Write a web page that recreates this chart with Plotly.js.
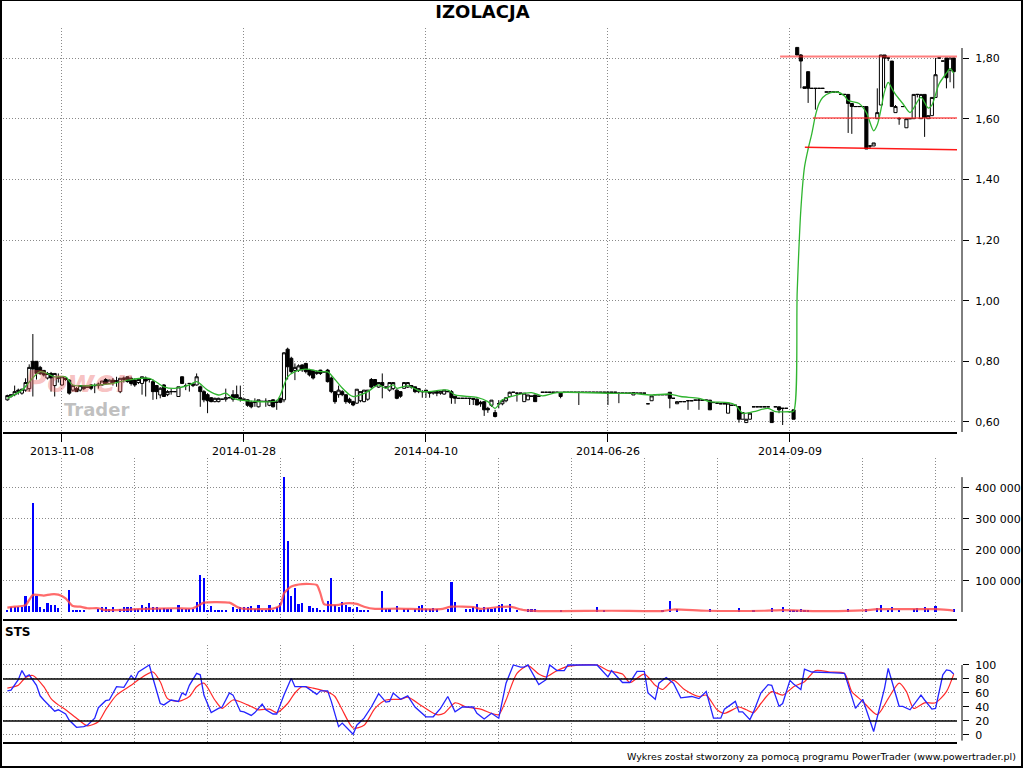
<!DOCTYPE html>
<html>
<head>
<meta charset="utf-8">
<script src="https://cdn.plot.ly/plotly-3.0.1.min.js"></script>
<style>
html,body{margin:0;padding:0;background:#fff;}
#wrap{position:relative;width:1024px;height:768px;overflow:hidden;}
#chart{position:absolute;left:0;top:0;width:1024px;height:768px;}
#frame{position:absolute;left:0;top:0;width:1019px;height:765px;border-left:2px solid #000;border-right:2px solid #000;border-top:1px solid #000;border-bottom:2px solid #000;pointer-events:none;}
</style>
</head>
<body>
<div id="wrap"><div id="chart"></div><div id="frame"></div></div>
<script>
// ---------------- DATA ----------------
// Session index 0..260 ; labelled sessions on the time axis
const tickIdx  = [15, 65, 115, 165, 215];
const tickText = ['2013-11-08', '2014-01-28', '2014-04-10', '2014-06-26', '2014-09-09'];

const open = [
.673,.685,.69,.70,.695,.705,.71,.80,.80,.78,
.77,.745,.76,.72,.745,.722,.745,.738,.705,.71,
.705,.72,.715,.722,.72,.72,.722,.74,.727,.738,
.735,.70,.74,.749,.744,.738,.73,.727,.745,.74,
.733,.72,.689,.722,.69,.70,.70,.684,.749,.72,
.727,.72,.722,.716,.70,.69,.68,.667,.667,.675,
.675,.68,.69,.69,.68,.675,.673,.665,.665,.65,
.668,.668,.655,.673,.665,.678,.673,.84,.81,.77,
.77,.788,.793,.771,.77,.76,.771,.765,.771,.745,
.70,.69,.70,.69,.675,.667,.662,.67,.667,.675,
.74,.74,.715,.73,.715,.705,.71,.705,.70,.711,
.715,.72,.716,.70,.70,.705,.70,.695,.70,.695,
.692,.70,.70,.685,.678,.678,.678,.678,.678,.675,
.665,.667,.645,.655,.631,.66,.66,.67,.684,.698,
.695,.695,.667,.673,.685,.689,.685,.698,.698,.698,
.698,.698,.698,.698,.698,.698,.698,.698,.698,.698,
.698,.698,.698,.698,.698,.698,.698,.698,.695,.695,
.695,.695,.689,.695,.695,.695,.66,.67,.69,.69,
.69,.69,.698,.678,.66,.667,.667,.67,.67,.672,
.672,.672,.672,.672,.664,.662,.66,.66,.629,.655,
.655,.651,.609,.598,.609,.65,.65,.65,.65,.65,
.632,.65,.65,.645,.645,.634,.64,1.835,1.81,1.705,
1.755,1.70,1.70,1.70,1.70,1.688,1.688,1.688,1.688,1.68,
1.68,1.68,1.65,1.64,1.64,1.64,1.64,1.51,1.51,1.60,
1.645,1.81,1.80,1.79,1.62,1.60,1.64,1.57,1.60,1.60,
1.68,1.60,1.68,1.60,1.61,1.67,1.80,1.79,1.80,1.76,
1.80];

const high = [
.69,.69,.72,.71,.71,.744,.79,.89,.80,.785,
.77,.765,.765,.76,.76,.75,.745,.74,.72,.715,
.72,.722,.715,.725,.727,.73,.735,.745,.74,.745,
.749,.744,.75,.75,.75,.744,.745,.749,.75,.745,
.74,.722,.715,.725,.705,.71,.70,.716,.75,.727,
.727,.728,.76,.72,.705,.695,.682,.68,.68,.675,
.71,.68,.705,.72,.72,.675,.675,.67,.678,.673,
.668,.678,.672,.675,.673,.68,.83,.845,.815,.793,
.79,.79,.795,.775,.772,.77,.772,.765,.775,.75,
.70,.72,.705,.69,.68,.67,.708,.70,.705,.705,
.745,.74,.73,.76,.715,.73,.73,.708,.70,.73,
.73,.722,.716,.712,.705,.705,.70,.70,.705,.70,
.705,.70,.705,.685,.678,.678,.678,.678,.678,.678,
.67,.667,.65,.672,.64,.672,.675,.68,.70,.698,
.697,.695,.695,.689,.685,.689,.685,.698,.698,.698,
.698,.698,.698,.698,.698,.698,.698,.698,.698,.698,
.698,.698,.698,.698,.698,.698,.698,.698,.695,.695,
.695,.695,.697,.695,.695,.695,.66,.686,.69,.69,
.69,.69,.698,.678,.667,.667,.667,.672,.67,.672,
.678,.672,.672,.672,.664,.662,.66,.66,.662,.655,
.655,.651,.631,.609,.629,.65,.65,.65,.65,.65,
.632,.65,.65,.645,.645,.634,.64,1.835,1.813,1.705,
1.755,1.70,1.70,1.70,1.70,1.688,1.688,1.688,1.688,1.68,
1.68,1.68,1.65,1.64,1.64,1.64,1.64,1.51,1.52,1.70,
1.81,1.81,1.80,1.79,1.645,1.605,1.64,1.60,1.60,1.68,
1.68,1.68,1.68,1.61,1.67,1.80,1.80,1.79,1.80,1.80,
1.80];

const low = [
.67,.68,.685,.69,.69,.70,.70,.684,.74,.755,
.75,.74,.70,.684,.73,.72,.735,.69,.70,.70,
.70,.705,.715,.705,.695,.71,.72,.725,.725,.72,
.716,.695,.73,.73,.72,.716,.725,.69,.684,.73,
.673,.675,.678,.684,.685,.69,.70,.684,.725,.705,
.70,.715,.72,.65,.665,.629,.665,.665,.665,.675,
.667,.68,.667,.678,.667,.675,.65,.645,.65,.648,
.668,.65,.652,.648,.64,.662,.665,.74,.76,.738,
.765,.765,.76,.75,.74,.755,.755,.765,.73,.695,
.66,.68,.685,.66,.66,.652,.66,.665,.665,.67,
.71,.715,.712,.678,.715,.70,.705,.675,.68,.71,
.712,.71,.695,.695,.68,.68,.68,.69,.685,.69,
.69,.70,.66,.66,.678,.678,.678,.656,.656,.656,
.65,.62,.63,.65,.615,.645,.655,.665,.684,.698,
.667,.695,.667,.673,.685,.667,.685,.698,.698,.698,
.698,.698,.678,.698,.698,.698,.698,.656,.698,.698,
.698,.698,.698,.698,.698,.656,.698,.698,.662,.695,
.695,.695,.689,.695,.695,.695,.66,.67,.69,.69,
.69,.69,.645,.678,.66,.667,.667,.64,.67,.672,
.64,.672,.672,.64,.664,.662,.66,.66,.629,.655,
.655,.598,.609,.598,.609,.65,.65,.65,.65,.65,
.598,.65,.629,.59,.645,.634,.609,1.81,1.70,1.70,
1.652,1.70,1.63,1.70,1.70,1.688,1.688,1.688,1.688,1.68,
1.68,1.553,1.55,1.64,1.64,1.64,1.50,1.50,1.51,1.60,
1.645,1.70,1.79,1.64,1.62,1.58,1.64,1.57,1.60,1.60,
1.67,1.60,1.54,1.60,1.61,1.67,1.80,1.79,1.70,1.72,
1.70];

const close = [
.687,.69,.70,.705,.708,.73,.78,.775,.76,.76,
.755,.76,.745,.76,.745,.749,.74,.695,.72,.70,
.72,.71,.715,.711,.72,.725,.735,.727,.738,.73,
.735,.744,.745,.733,.727,.722,.74,.749,.735,.74,
.70,.70,.711,.684,.70,.70,.70,.716,.727,.72,
.727,.725,.749,.70,.673,.67,.667,.678,.678,.675,
.68,.68,.675,.68,.675,.675,.655,.65,.665,.673,
.668,.668,.67,.65,.665,.665,.828,.782,.766,.78,
.785,.772,.766,.755,.745,.765,.76,.765,.733,.70,
.667,.705,.69,.667,.665,.656,.708,.70,.705,.705,
.715,.72,.73,.72,.715,.73,.73,.678,.685,.73,
.73,.715,.70,.71,.70,.70,.695,.70,.695,.70,
.705,.70,.68,.678,.678,.678,.678,.678,.675,.656,
.66,.64,.64,.672,.618,.66,.67,.68,.698,.698,
.695,.695,.695,.689,.685,.667,.685,.698,.698,.698,
.698,.698,.684,.698,.698,.698,.698,.698,.698,.698,
.698,.698,.698,.698,.698,.698,.698,.698,.695,.695,
.695,.695,.697,.695,.695,.695,.66,.686,.69,.69,
.69,.69,.678,.678,.667,.667,.667,.67,.67,.672,
.672,.672,.672,.64,.664,.662,.66,.66,.662,.655,
.655,.609,.631,.609,.629,.65,.65,.65,.65,.65,
.598,.65,.64,.645,.645,.634,.609,1.81,1.79,1.70,
1.70,1.70,1.70,1.70,1.70,1.688,1.688,1.688,1.688,1.68,
1.68,1.65,1.64,1.64,1.64,1.64,1.50,1.51,1.52,1.62,
1.81,1.80,1.80,1.64,1.64,1.60,1.64,1.60,1.60,1.68,
1.68,1.68,1.605,1.61,1.67,1.745,1.80,1.79,1.735,1.80,
1.755];

// green moving average on price (session index, value)
const maIdx = [0,4,9,13,16,18,25,29,33,39,43,46,50,52,55,58,60,62,66,74,75,77,79,82,86,88,90,92,94,95,97,99,102,104,106,107,110,114,121,123,129,132,134,136,140,144,147,151,168,171,177,182,185,190,193,198,200,202,205,209,211,215,216,217,218,219,220,221,222,223,224,226,228,230,231,234,236,238,239,240,241,242,243,244,246,248,249,251,253,254,256,258,259,260];
const maVal = [0.678,0.705,0.766,0.749,0.749,0.722,0.722,0.727,0.738,0.744,0.716,0.711,0.722,0.733,0.705,0.689,0.695,0.678,0.670,0.670,0.689,0.749,0.766,0.774,0.766,0.765,0.74,0.712,0.69,0.684,0.689,0.70,0.722,0.711,0.722,0.711,0.719,0.70,0.705,0.689,0.681,0.667,0.645,0.673,0.689,0.697,0.686,0.697,0.694,0.695,0.689,0.692,0.684,0.678,0.667,0.664,0.656,0.629,0.634,0.645,0.634,0.634,0.635,1.03,1.30,1.44,1.50,1.55,1.61,1.65,1.67,1.685,1.688,1.675,1.66,1.65,1.62,1.56,1.58,1.63,1.69,1.72,1.70,1.68,1.65,1.62,1.635,1.67,1.635,1.645,1.715,1.75,1.765,1.75];

// volume (thousands of shares) on sessions with trades
const volIdx = [0,1,2,3,4,5,6,7,8,9,10,11,12,13,14,17,18,19,20,21,25,26,27,28,29,31,32,33,34,35,36,37,38,39,40,41,42,43,44,45,47,48,49,50,51,52,53,54,55,56,57,58,59,60,62,63,64,65,66,67,68,69,70,71,72,73,74,75,76,77,78,79,80,81,83,84,85,86,87,88,89,90,91,92,93,94,95,96,97,98,99,103,104,105,107,109,110,112,113,114,115,116,117,118,121,122,123,126,127,128,129,130,131,132,133,134,135,136,137,138,140,143,144,145,152,162,164,180,182,184,193,201,205,210,213,215,216,217,218,219,220,231,236,239,240,242,243,245,249,250,252,253,255,260];
const volK = [7,15,17,17,15,52,19,353,50,17,10,28,22,22,14,71,7,7,7,7,9,17,17,9,17,9,17,15,15,9,9,22,17,28,15,17,9,14,9,9,22,9,9,9,9,32,119,109,7,19,7,7,7,7,17,9,15,15,17,19,9,22,7,7,22,7,17,30,437,230,52,78,25,28,19,14,14,7,7,35,108,22,17,32,22,17,9,17,6,6,6,68,9,9,19,9,9,9,19,22,9,9,12,9,9,98,31,9,9,17,25,6,17,12,9,12,23,27,9,27,6,9,9,9,6,16,6,6,35,9,9,12,6,12,16,6,6,6,9,6,6,9,9,14,23,6,15,6,9,12,15,9,19,9];

// red moving average on volume (thousands)
const vmaIdx = [0,2,5,7,10,12,14,16,18,20,22,25,27,36,46,51,54,57,61,64,73,75,76,78,81,85,86,87,89,91,93,96,98,101,107,119,122,128,130,135,138,142,146,166,180,183,192,208,213,222,235,239,247,255,259,260];
const vmaK = [14,17,22,55,53,57,56,44,19,17,12,12,6,9,12,12,30,32,30,12,11,22,60,82,90,87,60,25,22,23,28,26,17,10,11,9,17,16,10,16,17,6,3,4,3,8,4,4,6,3,5,9,9,9,6,4];

// STS oscillator: %K (blue) and %D (red)
const kIdx = [0,1,3,4,5,6,8,9,10,12,13,14,16,17,19,21,22,24,25,27,28,30,32,34,35,36,39,40,42,43,45,47,48,49,50,52,53,54,56,58,59,61,62,64,65,67,68,70,71,73,74,76,78,79,82,85,86,88,89,91,92,95,96,98,100,102,104,105,106,108,110,112,115,117,119,121,123,125,128,129,131,133,135,137,139,141,142,143,146,148,149,151,153,154,162,165,166,169,171,173,175,176,178,179,181,183,185,188,190,192,194,196,197,200,201,202,204,205,207,209,210,212,213,215,216,218,219,221,224,226,230,233,235,238,241,242,245,246,248,251,252,254,255,257,258,259,260];
const kVal = [63,64,79,92,83,86,71,56,50,39,34,36,30,21,11,12,14,24,39,49,50,69,68,85,79,90,100,81,45,43,50,48,60,57,71,88,86,57,32,38,40,60,57,34,33,28,32,44,36,30,30,57,81,69,69,58,63,63,48,12,17,1,14,24,40,59,47,48,60,51,56,40,26,26,38,55,33,40,40,31,23,31,24,74,100,97,97,100,72,79,100,92,92,100,100,83,92,75,75,91,91,60,51,74,82,74,53,55,52,62,24,24,37,48,33,33,22,33,60,72,71,41,45,78,73,65,94,90,90,89,88,38,51,5,67,95,41,41,36,57,50,37,38,86,93,92,87];
const dIdx = [0,3,5,7,10,12,14,16,19,22,25,27,30,34,36,40,42,44,47,50,52,54,57,59,62,66,69,72,74,77,79,81,84,87,89,90,92,95,98,101,104,108,110,114,118,120,123,126,130,133,135,137,140,143,146,148,151,154,162,165,169,171,175,178,180,183,186,190,192,195,197,201,203,205,207,210,213,216,219,222,226,230,232,235,239,242,245,247,249,252,255,258,260];
const dVal = [67,71,82,85,69,52,43,36,24,13,19,36,57,71,79,90,76,52,48,55,69,74,50,38,50,43,36,37,32,45,60,69,67,63,59,55,36,10,14,38,50,51,54,41,29,31,46,40,37,31,29,50,88,99,87,83,92,98,100,92,87,75,87,71,65,78,65,55,57,36,31,40,36,32,45,62,57,69,76,92,90,88,62,48,29,52,74,62,38,46,46,62,87];

// red support / resistance lines on the price panel
const lvlX0 = [212.3, 221.3, 219.1];
const lvlX1 = [262.7, 262.7, 262.7];
const lvlY0 = [1.805, 1.602, 1.506];
const lvlY1 = [1.805, 1.602, 1.497];

// axis tick values / labels
const priceTicks = [0.6, 0.8, 1.0, 1.2, 1.4, 1.6, 1.8];
const priceTickText = ['0,60','0,80','1,00','1,20','1,40','1,60','1,80'];
const volTicks = [100, 200, 300, 400];
const volTickText = ['100 000','200 000','300 000','400 000'];
const stsTicks = [0, 20, 40, 60, 80, 100];
const stsTickText = ['0','20','40','60','80','100'];
const stsLevels = [20, 80];

// ---------------- CHART ----------------
const idx = close.map((_, i) => i);
const FONT = 'DejaVu Sans';
const GRID = '#8a8a8a';
const X1 = 0.99479;

const traces = [
  {type:'candlestick', x:idx, open:open, high:high, low:low, close:close,
   xaxis:'x', yaxis:'y', hoverinfo:'none', whiskerwidth:0,
   increasing:{line:{color:'#000', width:1}, fillcolor:'#ffffff'},
   decreasing:{line:{color:'#000', width:1}, fillcolor:'#000000'}},
  {type:'scatter', mode:'lines', x:maIdx, y:maVal, xaxis:'x', yaxis:'y',
   line:{color:'#2fb52f', width:1.3, shape:'spline', smoothing:0.8}, hoverinfo:'none'},
  {type:'bar', x:volIdx, y:volK, xaxis:'x2', yaxis:'y2', width:0.6,
   marker:{color:'#0000ff', line:{width:0}}, hoverinfo:'none'},
  {type:'scatter', mode:'lines', x:vmaIdx, y:vmaK, xaxis:'x2', yaxis:'y2',
   line:{color:'rgba(255,70,70,0.8)', width:2.2, shape:'spline', smoothing:0.6}, hoverinfo:'none'},
  {type:'scatter', mode:'lines', x:dIdx, y:dVal, xaxis:'x3', yaxis:'y3',
   line:{color:'#ff2a2a', width:1.2, shape:'spline', smoothing:0.7}, hoverinfo:'none'},
  {type:'scatter', mode:'lines', x:kIdx, y:kVal, xaxis:'x3', yaxis:'y3',
   line:{color:'#2424ff', width:1.3}, hoverinfo:'none'}
];

const tickFont = {family:FONT, size:11, color:'#000'};
const yCommon = {side:'right', anchor:'free', position:1, tickmode:'array', ticks:'outside',
  ticklen:6, tickwidth:1, tickcolor:'#000', showline:false, zeroline:false,
  showgrid:true, gridcolor:GRID, gridwidth:1, griddash:'1px,2px', tickfont:tickFont,
  ticklabelstandoff:4, automargin:false, fixedrange:true};
const xLower = {domain:[0, X1], matches:'x', tickmode:'linear', tick0:15, dtick:20,
  showticklabels:false, ticks:'', showgrid:true, gridcolor:GRID, gridwidth:1, griddash:'1px,2px',
  showline:true, linecolor:'#000', linewidth:2, zeroline:false, fixedrange:true};

const shapes = [];
// vertical axis lines
shapes.push({type:'line', xref:'paper', x0:1, x1:1, yref:'y', y0:0.567, y1:1.833, line:{color:'#000', width:1}});
shapes.push({type:'line', xref:'paper', x0:1, x1:1, yref:'y2', y0:0, y1:435, line:{color:'#000', width:1}});
shapes.push({type:'line', xref:'paper', x0:1, x1:1, yref:'y3', y0:-8, y1:100, line:{color:'#000', width:1}});
// STS 20 / 80 lines
stsLevels.forEach(v => shapes.push({type:'line', xref:'paper', x0:0, x1:X1, yref:'y3', y0:v, y1:v, line:{color:'#000', width:1.4}}));
// support / resistance lines
lvlX0.forEach((x0, k) => shapes.push({type:'line', xref:'x', yref:'y', x0:x0, x1:lvlX1[k], y0:lvlY0[k], y1:lvlY1[k],
  line:{color: k === 2 ? 'rgba(255,0,0,0.9)' : 'rgba(255,40,40,0.6)', width: k === 2 ? 1.5 : 2}}));

const annotations = [
  {xref:'paper', yref:'paper', x:0.0793, y:0.5056, xanchor:'center', yanchor:'middle', showarrow:false,
   text:'<b><i>Power</i></b>', font:{family:FONT, size:30, color:'rgba(236,95,95,0.38)'}},
  {xref:'paper', yref:'paper', x:0.0975, y:0.465, xanchor:'center', yanchor:'middle', showarrow:false,
   text:'<b>Trader</b>', font:{family:FONT, size:18, color:'rgba(130,130,130,0.5)'}},
  {xref:'paper', yref:'paper', x:0, y:0.154, xanchor:'left', yanchor:'middle', showarrow:false,
   text:'<b>STS</b>', font:{family:FONT, size:12, color:'#000'}},
  {xref:'paper', yref:'paper', x:1.0584, y:-0.021, xanchor:'right', yanchor:'middle', showarrow:false,
   text:'Wykres został stworzony za pomocą programu PowerTrader (www.powertrader.pl)', font:{family:FONT, size:9.5, color:'#000'}}
];

const layout = {
  width:1024, height:768,
  margin:{l:3, r:62, t:28, b:26, pad:0},
  paper_bgcolor:'#ffffff', plot_bgcolor:'#ffffff',
  showlegend:false, hovermode:false,
  boxgap:0.15, boxgroupgap:0,
  bargap:0,
  font:{family:FONT, size:11, color:'#000'},
  title:{text:'<b>IZOLACJA</b>', font:{family:FONT, size:18, color:'#000'},
         x:0.5, xref:'paper', xanchor:'center', y:1 - 12/768, yref:'container', yanchor:'middle'},
  xaxis:{domain:[0, X1], anchor:'y', range:[-1.2, 260.9], tickmode:'array', tickvals:tickIdx, ticktext:tickText,
         ticks:'outside', ticklen:8, tickwidth:1, tickcolor:'#000', tickfont:tickFont,
         showgrid:true, gridcolor:GRID, gridwidth:1, griddash:'1px,2px',
         showline:true, linecolor:'#000', linewidth:2, zeroline:false,
         rangeslider:{visible:false}, fixedrange:true},
  xaxis2:Object.assign({anchor:'y2'}, xLower),
  xaxis3:Object.assign({anchor:'y3'}, xLower),
  yaxis:Object.assign({}, yCommon, {domain:[0.4342, 1], range:[0.567, 1.899], tickvals:priceTicks, ticktext:priceTickText}),
  yaxis2:Object.assign({}, yCommon, {domain:[0.1723, 0.3978], range:[-22.6, 496.8], tickvals:volTicks, ticktext:volTickText}),
  yaxis3:Object.assign({}, yCommon, {domain:[0, 0.1359], range:[-10, 128.6], tickvals:stsTicks, ticktext:stsTickText}),
  shapes:shapes,
  annotations:annotations
};

Plotly.newPlot('chart', traces, layout, {staticPlot:true, displayModeBar:false, responsive:false});
</script>
</body>
</html>
